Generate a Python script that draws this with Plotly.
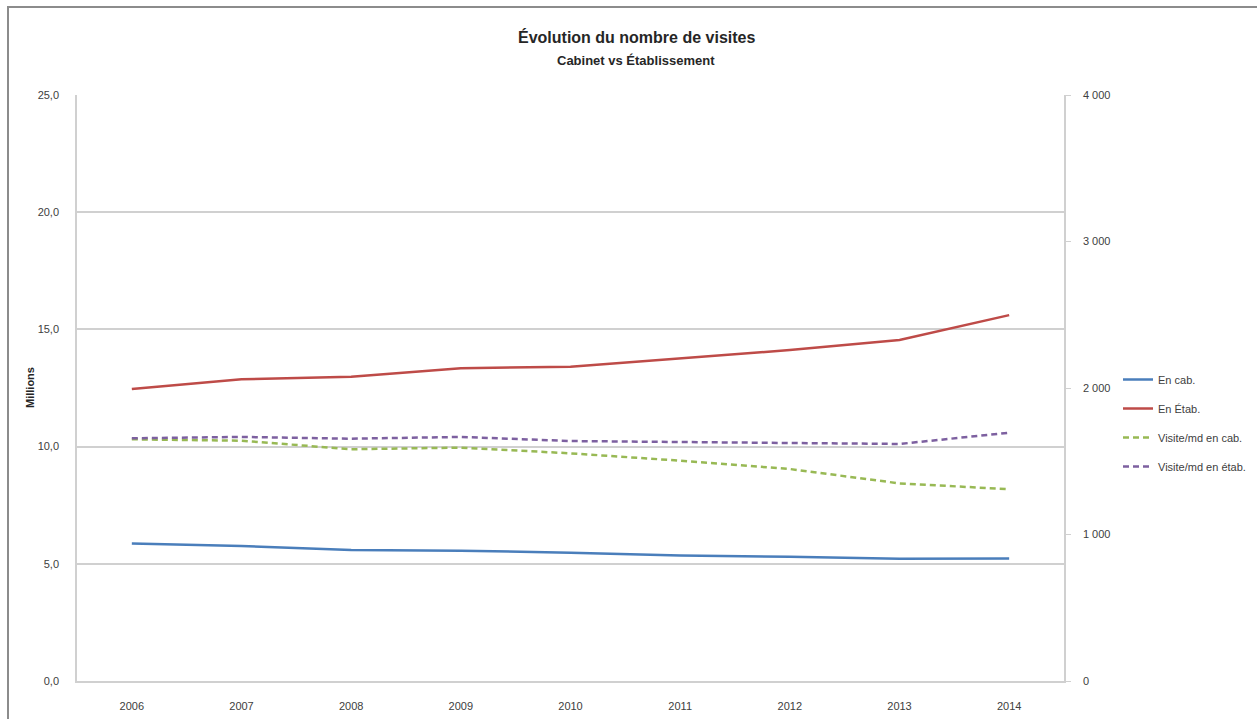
import plotly.graph_objects as go

years = ["2006", "2007", "2008", "2009", "2010", "2011", "2012", "2013", "2014"]
en_cab = [5.87, 5.76, 5.59, 5.56, 5.47, 5.35, 5.30, 5.22, 5.23]
en_etab = [12.46, 12.87, 12.98, 13.34, 13.41, 13.77, 14.12, 14.55, 15.61]
visite_cab = [1650, 1640, 1582, 1593, 1554, 1504, 1447, 1349, 1309]
visite_etab = [1657, 1666, 1654, 1666, 1638, 1631, 1622, 1618, 1695]

left_ticks = [0, 5, 10, 15, 20, 25]
right_ticks = [0, 1000, 2000, 3000, 4000]

FONT = "Liberation Sans Narrow, Arial Narrow, Liberation Sans, sans-serif"
W, H = 1257, 719
L, R, T, B = 77, 1064, 95, 681

fig = go.Figure()
fig.add_trace(go.Scatter(x=years, y=en_cab, name="En cab.", mode="lines",
                         line=dict(color="#4a7ebb", width=2.5), legendgroup="a"))
fig.add_trace(go.Scatter(x=years, y=en_etab, name="En Étab.", mode="lines",
                         line=dict(color="#be4b48", width=2.5), legendgroup="b"))
fig.add_trace(go.Scatter(x=years, y=visite_cab, name="Visite/md en cab.", mode="lines",
                         line=dict(color="#98b954", width=2.5, dash="6px,4px"),
                         yaxis="y2", legendgroup="c"))
fig.add_trace(go.Scatter(x=years, y=visite_etab, name="Visite/md en étab.", mode="lines",
                         line=dict(color="#7d60a0", width=2.5, dash="6px,4px"),
                         yaxis="y2", legendgroup="d"))

fig.update_layout(
    width=W, height=H,
    margin=dict(l=L, r=W - R, t=T, b=H - B, pad=0, autoexpand=False),
    paper_bgcolor="white", plot_bgcolor="white",
    separators=", ",
    font=dict(family=FONT, size=11, color="#404040"),
    showlegend=True,
    legend=dict(x=(1118 - L) / (R - L), xanchor="left", y=(B - 423) / (B - T), yanchor="middle",
                font=dict(size=11, color="#404040"), tracegroupgap=10,
                bgcolor="rgba(0,0,0,0)", itemwidth=30),
    xaxis=dict(type="category", range=[-0.5, 8.5], showgrid=False, zeroline=False,
               automargin=False,
               showline=True, linecolor="#d0d0d0", linewidth=1.5, ticks="",
               tickfont=dict(size=11, color="#404040"), ticklabelstandoff=14),
    yaxis=dict(range=[0, 25], tickvals=left_ticks, tickformat=".1f", automargin=False,
               showgrid=True, gridcolor="#d0d0d0", gridwidth=1.5, zeroline=False,
               showline=True, linecolor="#d0d0d0", linewidth=1.5, ticks="",
               tickfont=dict(size=11, color="#404040"), ticklabelstandoff=14),
    yaxis2=dict(range=[0, 4000], tickvals=right_ticks, tickformat=",d", overlaying="y",
                side="right", showgrid=False, zeroline=False, showline=True, automargin=False,
                linecolor="#d0d0d0", linewidth=1.5, ticks="outside", ticklen=5,
                tickcolor="#d0d0d0", tickfont=dict(size=11, color="#404040"),
                ticklabelstandoff=10),
    shapes=[dict(type="rect", xref="paper", yref="paper",
                 x0=(8 - L) / (R - L), x1=(W + 20 - L) / (R - L),
                 y0=(B - (H + 20)) / (B - T), y1=(B - 7) / (B - T),
                 line=dict(color="#8c8c8c", width=2), fillcolor="rgba(0,0,0,0)",
                 layer="below")],
    annotations=[
        dict(text="<b>Évolution du nombre de visites</b>", xref="paper", yref="paper",
             x=(636 - L) / (R - L), y=(B - 37) / (B - T), showarrow=False,
             font=dict(size=16, color="#262626"), xanchor="center", yanchor="middle"),
        dict(text="<b>Cabinet vs Établissement</b>", xref="paper", yref="paper",
             x=(636 - L) / (R - L), y=(B - 60) / (B - T), showarrow=False,
             font=dict(size=13, color="#262626"), xanchor="center", yanchor="middle"),
        dict(text="<b>Millions</b>", xref="paper", yref="paper",
             x=(30 - L) / (R - L), y=(B - 388) / (B - T), showarrow=False, textangle=-90,
             font=dict(size=11, color="#262626"), xanchor="center", yanchor="middle"),
    ],
)

fig.write_html("out.html")
